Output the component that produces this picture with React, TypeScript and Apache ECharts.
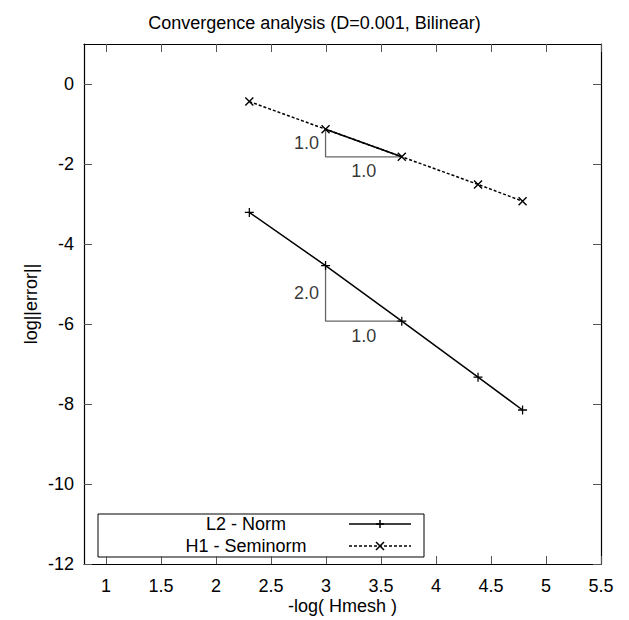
import React, { useEffect, useRef } from "react";
import * as echarts from "echarts";

// ---- data ----
const xValues = [2.303, 2.996, 3.689, 4.382, 4.787];
const l2Values = [-3.21, -4.54, -5.93, -7.33, -8.15];
const h1Values = [-0.44, -1.13, -1.82, -2.51, -2.93];
const xTicks = [1, 1.5, 2, 2.5, 3, 3.5, 4, 4.5, 5, 5.5];
const yTicks = [-12, -10, -8, -6, -4, -2, 0];
const seriesNames = ["L2 - Norm", "H1 - Seminorm"];
// slope triangles between point index 1 and 2
const triFrom = 1;
const triTo = 2;
const riseLabels = ["2.0", "1.0"]; // L2, H1
const runLabels = ["1.0", "1.0"];

const FONT = "'Liberation Sans', Arial, Helvetica, sans-serif";
const PLUS = "path://M4.3,0H5.7V4.3H10V5.7H5.7V10H4.3V5.7H0V4.3H4.3Z";
const CROSS = "path://M0,1.1L1.1,0L10,8.9L8.9,10Z M8.9,0L10,1.1L1.1,10L0,8.9Z";

export default function App() {
  const ref = useRef<HTMLDivElement>(null);
  useEffect(() => {
    if (!ref.current) return;
    const chart = echarts.init(ref.current, undefined, { renderer: "svg" });
    const l2 = xValues.map((x, i) => [x, l2Values[i]]);
    const h1 = xValues.map((x, i) => [x, h1Values[i]]);
    const tri = (ys: number[]) => [
      [xValues[triFrom], ys[triFrom]],
      [xValues[triFrom], ys[triTo]],
      [xValues[triTo], ys[triTo]],
    ];
    const labelPts = (ys: number[], rise: string, run: string) => [
      { value: [xValues[triFrom], (ys[triFrom] + ys[triTo]) / 2], label: { position: "left", distance: 6, formatter: rise } },
      { value: [(xValues[triFrom] + xValues[triTo]) / 2, ys[triTo]], label: { position: "bottom", distance: 5, formatter: run } },
    ];
    const axisCommon = {
      type: "value" as const,
      axisLine: { show: true, onZero: false, lineStyle: { color: "#000", width: 1.2 } },
      splitLine: { show: false },
    };
    const txt = { fontFamily: FONT, fontSize: 18, color: "#000" };
    const option: any = {
      animation: false,
      title: {
        text: "Convergence analysis (D=0.001, Bilinear)",
        left: "center",
        top: 9,
        textStyle: { ...txt, fontWeight: "normal" },
      },
      grid: { left: 84, right: 28, top: 44, bottom: 55, containLabel: false },
      xAxis: [
        {
          ...axisCommon,
          min: 0.8,
          max: 5.5,
          position: "bottom",
          name: "-log( Hmesh )",
          nameLocation: "middle",
          nameGap: 33,
          nameMoveOverlap: false,
          nameTextStyle: txt,
          axisTick: { show: true, inside: true, length: 8, customValues: xTicks, lineStyle: { color: "#555" } },
          axisLabel: { show: true, customValues: xTicks, margin: 13, ...txt },
        },
        {
          ...axisCommon,
          min: 0.8,
          max: 5.5,
          position: "top",
          axisTick: { show: true, inside: true, length: 8, customValues: xTicks, lineStyle: { color: "#555" } },
          axisLabel: { show: false },
        },
      ],
      yAxis: [
        {
          ...axisCommon,
          min: -12,
          max: 1,
          position: "left",
          name: "log||error||",
          nameLocation: "middle",
          nameRotate: 90,
          nameGap: 44,
          nameMoveOverlap: false,
          nameTextStyle: txt,
          axisTick: { show: true, inside: true, length: 8, customValues: yTicks, lineStyle: { color: "#555" } },
          axisLabel: { show: true, customValues: yTicks, margin: 10, ...txt },
        },
        {
          ...axisCommon,
          min: -12,
          max: 1,
          position: "right",
          axisTick: { show: true, inside: true, length: 8, customValues: yTicks, lineStyle: { color: "#555" } },
          axisLabel: { show: false },
        },
      ],
      series: [
        {
          name: "triL2",
          type: "line",
          data: tri(l2Values),
          symbol: "none",
          lineStyle: { color: "#666", width: 1.3 },
          z: 1,
        },
        {
          name: "triH1",
          type: "line",
          data: tri(h1Values),
          symbol: "none",
          lineStyle: { color: "#666", width: 1.3 },
          z: 1,
        },
        {
          name: "hypH1",
          type: "line",
          data: [h1[triFrom], h1[triTo]],
          symbol: "none",
          lineStyle: { color: "#000", width: 1.5 },
          z: 3,
        },
        {
          name: seriesNames[0],
          type: "line",
          data: l2,
          symbol: PLUS,
          symbolSize: 9,
          itemStyle: { color: "#000" },
          lineStyle: { color: "#000", width: 1.5 },
          z: 4,
        },
        {
          name: seriesNames[1],
          type: "line",
          data: h1,
          symbol: CROSS,
          symbolSize: 9,
          itemStyle: { color: "#000" },
          lineStyle: { color: "#000", width: 1.5, type: [3, 2] },
          z: 4,
        },
        {
          name: "slopeLabels",
          type: "scatter",
          symbolSize: 1,
          itemStyle: { color: "transparent" },
          data: [...labelPts(l2Values, riseLabels[0], runLabels[0]), ...labelPts(h1Values, riseLabels[1], runLabels[1])],
          label: { show: true, ...txt },
          z: 5,
        },
      ],
      graphic: [
        {
          type: "group",
          z: 100,
          children: [
            { type: "rect", shape: { x: 98, y: 514, width: 326, height: 43 }, style: { fill: "#fff", stroke: "#000", lineWidth: 1 } },
            { type: "text", x: 246, y: 524, style: { text: seriesNames[0], align: "center", verticalAlign: "middle", font: `18px ${FONT}`, fill: "#000" } },
            { type: "text", x: 246, y: 546, style: { text: seriesNames[1], align: "center", verticalAlign: "middle", font: `18px ${FONT}`, fill: "#000" } },
            { type: "line", shape: { x1: 349, y1: 524, x2: 411, y2: 524 }, style: { stroke: "#000", lineWidth: 1.5 } },
            { type: "line", shape: { x1: 376, y1: 524, x2: 384, y2: 524 }, style: { stroke: "#000", lineWidth: 1.5 } },
            { type: "line", shape: { x1: 380, y1: 520, x2: 380, y2: 528 }, style: { stroke: "#000", lineWidth: 1.5 } },
            { type: "line", shape: { x1: 349, y1: 546, x2: 411, y2: 546 }, style: { stroke: "#000", lineWidth: 1.5, lineDash: [3, 2] } },
            { type: "line", shape: { x1: 376, y1: 542, x2: 384, y2: 550 }, style: { stroke: "#000", lineWidth: 1.6 } },
            { type: "line", shape: { x1: 384, y1: 542, x2: 376, y2: 550 }, style: { stroke: "#000", lineWidth: 1.6 } },
          ],
        },
      ],
    };
    chart.setOption(option);
    return () => chart.dispose();
  }, []);
  return <div ref={ref} style={{ width: 629, height: 620, position: "absolute", left: 0, top: 0 }} />;
}
